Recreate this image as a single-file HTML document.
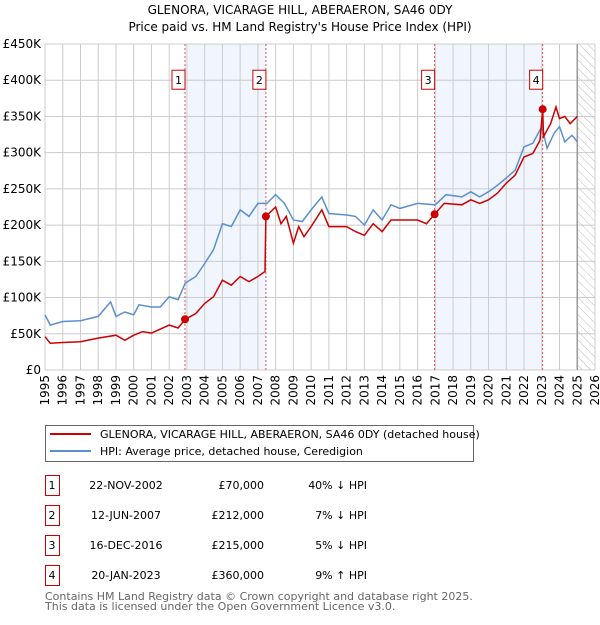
<!DOCTYPE html>
<html><head><meta charset="utf-8"><style>
body{margin:0;background:#fff;}
svg{font-family:"DejaVu Sans","Liberation Sans",sans-serif;}
</style></head><body>
<svg id="c" width="600" height="620" viewBox="0 0 600 620">
<defs><pattern id="hatch" width="6" height="6" patternUnits="userSpaceOnUse" patternTransform="rotate(-45)"><line x1="0" y1="0" x2="0" y2="6" stroke="#bbb" stroke-width="1"/></pattern></defs>
<text x="300" y="14" text-anchor="middle" font-size="12">GLENORA, VICARAGE HILL, ABERAERON, SA46 0DY</text>
<text x="300" y="31" text-anchor="middle" font-size="12">Price paid vs. HM Land Registry's House Price Index (HPI)</text>
<g id="plot"></g>
<g>
<rect x="45.5" y="425.5" width="428" height="36" fill="#fff" stroke="#666"/>
<line x1="50" y1="434" x2="91" y2="434" stroke="#cc0000" stroke-width="2"/>
<text x="100" y="438" font-size="11">GLENORA, VICARAGE HILL, ABERAERON, SA46 0DY (detached house)</text>
<line x1="50" y1="451" x2="91" y2="451" stroke="#5b8fd0" stroke-width="2"/>
<text x="100" y="455" font-size="11">HPI: Average price, detached house, Ceredigion</text>
</g>
<g id="tbl" font-size="11"></g>
<text x="45" y="600" font-size="11" fill="#666">Contains HM Land Registry data © Crown copyright and database right 2025.</text>
<text x="45" y="610" font-size="11" fill="#666">This data is licensed under the Open Government Licence v3.0.</text>
</svg>
<script>
const hpiYears=[1995,1995.3,1996,1997,1998,1998.7,1999,1999.5,2000,2000.3,2001,2001.5,2002,2002.5,2002.9,2003.5,2004,2004.5,2005,2005.5,2006,2006.5,2007,2007.5,2008,2008.5,2009,2009.5,2010,2010.6,2011,2012,2012.5,2013,2013.5,2014,2014.5,2015,2016,2017,2017.6,2018.5,2019,2019.5,2020,2020.5,2021,2021.5,2022,2022.5,2023,2023.3,2023.7,2024,2024.3,2024.7,2025];
const hpiValues=[76,62,67,68,74,94,74,80,76,90,87,87,101,97,120,129,147,166,202,198,221,212,230,230,242,230,207,205,221,239,216,214,212,200,221,207,228,223,230,228,242,239,246,239,246,255,265,276,308,313,336,306,327,336,315,324,315];
const ppYears=[1995,1995.3,1996,1997,1998,1999,1999.5,2000,2000.5,2001,2002,2002.5,2002.9,2003.5,2004,2004.5,2005,2005.5,2006,2006.5,2007,2007.4,2007.45,2008,2008.3,2008.6,2009,2009.3,2009.6,2010,2010.6,2011,2012,2012.5,2013,2013.5,2014,2014.5,2015,2016,2016.5,2016.96,2017.5,2018.5,2019,2019.5,2020,2020.5,2021,2021.5,2022,2022.5,2022.9,2023.05,2023.1,2023.5,2023.8,2024,2024.3,2024.6,2025];
const ppValues=[46,37,38,39,44,48,41,48,53,51,62,58,70,78,92,101,124,117,129,122,129,136,212,225,202,212,175,198,184,198,221,198,198,191,186,202,191,207,207,207,202,215,230,228,235,230,235,244,258,269,294,299,317,360,322,340,363,347,350,340,350];
const saleLabels=["1","2","3","4"];
const saleYears=[2002.89,2007.45,2016.96,2023.05];
const saleValues=[70,212,215,360];
const saleDates=["22-NOV-2002","12-JUN-2007","16-DEC-2016","20-JAN-2023"];
const salePrices=["£70,000","£212,000","£215,000","£360,000"];
const saleDiffs=["40% ↓ HPI","7% ↓ HPI","5% ↓ HPI","9% ↑ HPI"];
const yTicks=[0,50,100,150,200,250,300,350,400,450];
const yTickLabels=["£0","£50K","£100K","£150K","£200K","£250K","£300K","£350K","£400K","£450K"];
const xTicks=[1995,1996,1997,1998,1999,2000,2001,2002,2003,2004,2005,2006,2007,2008,2009,2010,2011,2012,2013,2014,2015,2016,2017,2018,2019,2020,2021,2022,2023,2024,2025,2026];

const X0=45,X1=595,Y0=370,Y1=44,NS="http://www.w3.org/2000/svg";
const xs=y=>X0+(y-1995)/(2026-1995)*(X1-X0);
const ys=v=>Y0-v/450*(Y0-Y1);
const plot=document.getElementById('plot');
function mk(tag,at,parent){const e=document.createElementNS(NS,tag);for(const k in at)e.setAttribute(k,at[k]);(parent||plot).appendChild(e);return e;}
// shading
let s=mk('rect',{x:xs(saleYears[0]),y:Y1,width:xs(saleYears[1])-xs(saleYears[0]),height:Y0-Y1,fill:'#eef3fc',opacity:0.8});


s=mk('rect',{x:xs(saleYears[2]),y:Y1,width:xs(saleYears[3])-xs(saleYears[2]),height:Y0-Y1,fill:'#eef3fc',opacity:0.8});


let h=mk('rect',{x:xs(2025),y:Y1,width:X1-xs(2025),height:Y0-Y1,fill:'url(#hatch)'});


// grid
yTicks.forEach((t,i)=>{
 const g=mk('line',{x1:X0,x2:X1,y1:ys(t),y2:ys(t),stroke:'#ccc','stroke-width':1});
 
 
 const l=mk('text',{x:X0-4,y:ys(t)+4,'text-anchor':'end','font-size':12});
 l.textContent=yTickLabels[i];
 
 
});
xTicks.forEach(t=>{
 const g=mk('line',{x1:xs(t),x2:xs(t),y1:Y1,y2:Y0,stroke:'#ccc','stroke-width':1});
 
 
 const l=mk('text',{transform:`translate(${xs(t)+4},${Y0+5}) rotate(-90)`,'text-anchor':'end','font-size':12});
 l.textContent=t;
 
 
});
let ln=mk('line',{x1:xs(2025),x2:xs(2025),y1:Y1,y2:Y0,stroke:'#999','stroke-width':1.5});


// sale vlines
saleYears.forEach((y,i)=>{
 const v=mk('line',{x1:xs(y),x2:xs(y),y1:Y1,y2:Y0,stroke:'#e05555','stroke-width':1,'stroke-dasharray':'2,2'});
 
 
});
// lines
const path=(xa,va)=>xa.map((x,i)=>(i?'L':'M')+xs(x).toFixed(1)+','+ys(va[i]).toFixed(1)).join('');
let p=mk('path',{d:path(hpiYears,hpiValues),fill:'none',stroke:'#5b8fd0','stroke-width':1.5});


p=mk('path',{d:path(ppYears,ppValues),fill:'none',stroke:'#cc0000','stroke-width':1.5});


saleYears.forEach((y,i)=>{
 const c=mk('circle',{cx:xs(y),cy:ys(saleValues[i]),r:4,fill:'#cc0000'});
 
 
 const bx=xs(y)-13;
 const r=mk('rect',{x:bx,y:ys(400)-10,width:13,height:19,fill:'#fff',stroke:'#cc0000'});
 
 
 const t=mk('text',{x:bx+6.5,y:ys(400)+4,'text-anchor':'middle','font-size':11});
 t.textContent=saleLabels[i];
 
 
});
// table
const tbl=document.getElementById('tbl');
saleLabels.forEach((l,i)=>{
 const y=475+i*30;
 const r=mk('rect',{x:45.5,y:y+0.5,width:14,height:20,fill:'#fff',stroke:'#cc0000'},tbl);
 
 
 const cells=[[l,52,'middle'],[saleDates[i],126,'middle'],[salePrices[i],264,'end'],[saleDiffs[i],367,'end']];
 cells.forEach(c=>{
  const t=mk('text',{x:c[1],y:y+14,'text-anchor':c[2]},tbl);
  t.textContent=c[0];
  
  
 });
});
</script>
</body></html>
